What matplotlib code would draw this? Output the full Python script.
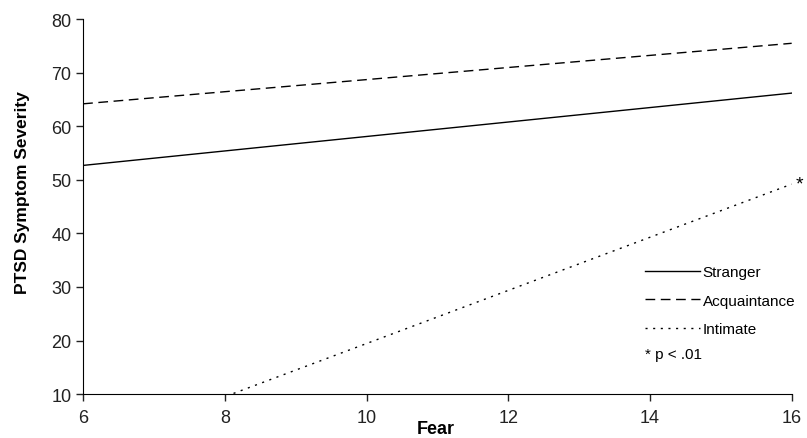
import numpy as np
import matplotlib
matplotlib.use('Agg')
from matplotlib import pyplot as plt
plt.rcParams['font.family'] = ['Liberation Sans', 'DejaVu Sans']

fear = [6, 16]
stranger = [52.7, 66.2]
acquaintance = [64.2, 75.5]
intimate = [-0.4, 49.2]
labels = ['Stranger', 'Acquaintance', 'Intimate']


def draw():
    fig = plt.figure(figsize=(8.07, 4.39), dpi=100)
    ax = fig.add_axes([0.103, 0.100, 0.878, 0.854])

    ax.plot(fear, stranger, color='black', lw=1.0, ls='-', label=labels[0])
    ax.plot(fear, acquaintance, color='black', lw=1.0, ls=(0, (7, 4)), label=labels[1])
    ax.plot(fear, intimate, color='black', lw=1.0, ls=(0, (1.5, 4)), label=labels[2])

    ax.set_xlim(6, 16)
    ax.set_ylim(10, 80)
    ax.set_xticks(np.arange(6, 17, 2))
    ax.set_yticks(np.arange(10, 81, 10))
    ax.spines['top'].set_visible(False)
    ax.spines['right'].set_visible(False)
    ax.tick_params(direction='out', length=5, width=1, labelsize=13, colors='#222222')
    ax.tick_params(axis='x', pad=6)

    ax.set_ylabel('PTSD Symptom Severity', fontsize=12.5, fontweight='bold')
    ax.yaxis.set_label_coords(-0.075, 0.54)
    fig.text(436 / 807, 1 - 430 / 439, 'Fear', fontsize=13, fontweight='bold',
             ha='center', va='center')

    ax.text(16.05, intimate[1], '*', fontsize=14, ha='left', va='center', clip_on=False)

    ax.legend(loc='upper left', bbox_to_anchor=(0.773, 0.381), frameon=False,
              fontsize=11, handlelength=3.6, handletextpad=0.2, labelspacing=0.95)
    fig.text(645 / 807, 1 - 355 / 439, '* p < .01', fontsize=11, ha='left', va='center')

    fig.savefig('out.png', dpi=100)
    plt.close(fig)


if __name__ == '__main__':
    draw()
